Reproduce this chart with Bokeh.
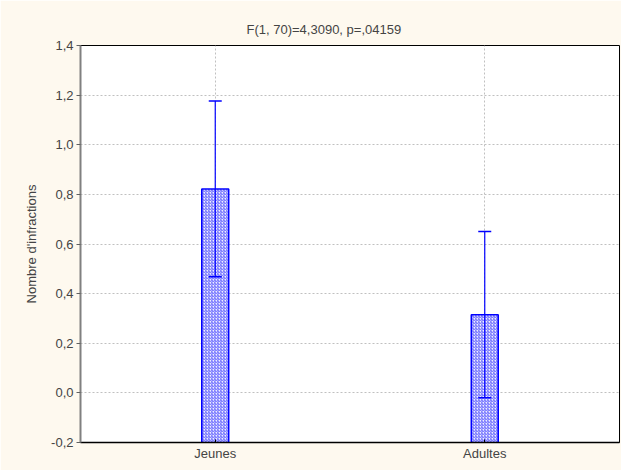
from bokeh.plotting import figure
from bokeh.models import (ColumnDataSource, FactorRange, Range1d, FixedTicker,
                          CustomJSTickFormatter, Whisker, TeeHead)
from bokeh.embed import file_html
from bokeh.resources import INLINE

# ---- data ----
categories = ["Jeunes", "Adultes"]
means = [0.822, 0.315]
errors = [0.354, 0.335]
y_ticks = [-0.2, 0.0, 0.2, 0.4, 0.6, 0.8, 1.0, 1.2, 1.4]
title_text = "F(1, 70)=4,3090, p=,04159"
y_label = "Nombre d'infractions"

FONT = "Liberation Sans"
BLUE = "#0000ff"

src = ColumnDataSource(dict(
    cat=categories,
    mean=means,
    upper=[m + e for m, e in zip(means, errors)],
    lower=[m - e for m, e in zip(means, errors)],
))

p = figure(width=621, height=470, output_backend="svg", toolbar_location=None,
           x_range=FactorRange(factors=categories, range_padding=0),
           y_range=Range1d(y_ticks[0], y_ticks[-1]),
           min_border_left=80, min_border_right=2, min_border_top=45,
           min_border_bottom=28)

p.background_fill_color = "white"
p.border_fill_color = "#fef9ef"
p.outline_line_color = "black"
p.outline_line_width = 1

p.vbar(x="cat", top="mean", bottom=y_ticks[0], width=0.1, source=src,
       fill_color="#eeeeff", line_color=BLUE, line_width=1.5,
       hatch_pattern="right_diagonal_line", hatch_color="#3030ff",
       hatch_alpha=0.75, hatch_scale=3, hatch_weight=1)

w = Whisker(base="cat", upper="upper", lower="lower", source=src,
            line_color=BLUE, line_width=1.2, level="overlay",
            upper_head=TeeHead(size=13, line_color=BLUE, line_width=1.5),
            lower_head=TeeHead(size=13, line_color=BLUE, line_width=1.5))
p.add_layout(w)

# grids
for g in (p.xgrid, p.ygrid):
    g.grid_line_color = "#c0c0c0"
    g.grid_line_dash = "2 2"
    g.grid_line_width = 1

# y axis
p.yaxis.ticker = FixedTicker(ticks=y_ticks)
p.yaxis.formatter = CustomJSTickFormatter(code="return tick.toFixed(1).replace('.', ',');")
p.yaxis.axis_label = y_label
p.yaxis.axis_label_text_font = FONT
p.yaxis.axis_label_text_font_size = "13px"
p.yaxis.axis_label_text_font_style = "normal"
p.yaxis.axis_label_standoff = 9
p.yaxis.major_label_text_font = FONT
p.yaxis.major_label_text_font_size = "13px"
p.yaxis.major_tick_out = 4
p.yaxis.major_tick_in = 0
p.yaxis.minor_tick_line_color = None
p.yaxis.axis_line_color = "#808080"
p.yaxis.axis_line_width = 2
p.yaxis.major_tick_line_color = "#606060"
p.yaxis.major_label_standoff = 3

# x axis
p.xaxis.major_label_text_font = FONT
p.xaxis.major_label_text_font_size = "13px"
p.xaxis.major_tick_out = 0
p.xaxis.major_tick_in = 3
p.xaxis.axis_line_color = "black"
p.xaxis.axis_line_width = 1.5
p.xaxis.major_label_standoff = 3

# title
p.title.text = title_text
p.title.text_font = FONT
p.title.text_font_size = "13px"
p.title.text_font_style = "normal"
p.title.align = "left"
p.title.offset = 166
p.title.standoff = 18

open("out.html", "w").write(file_html(p, INLINE))
